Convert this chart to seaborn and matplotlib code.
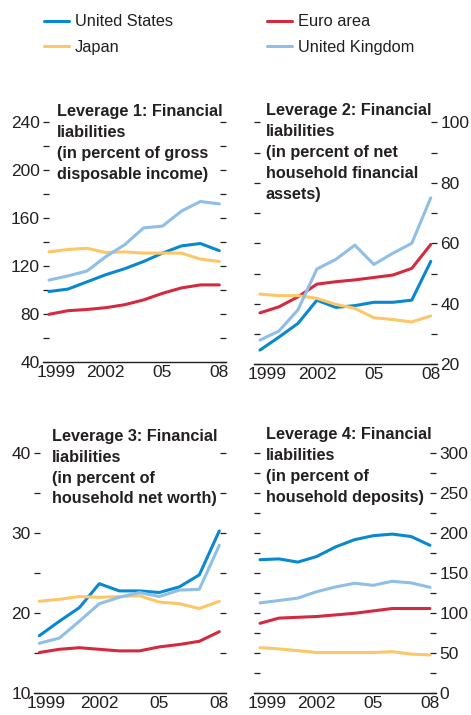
import pandas as pd
import matplotlib.pyplot as plt
import seaborn as sns
from matplotlib.lines import Line2D
from matplotlib.ticker import MultipleLocator
from matplotlib.transforms import ScaledTranslation

# Style
sns.set_style("white")
plt.rcParams['font.family'] = ['Liberation Sans', 'DejaVu Sans']
plt.rcParams['text.color'] = "#231f20"

years = list(range(1999, 2009))
countries = ["United States", "Euro area", "Japan", "United Kingdom"]
palette = {"United States": "#0a88cf", "Euro area": "#d42a3f",
           "Japan": "#fcc766", "United Kingdom": "#8fbfe6"}

# Leverage 1: liabilities / gross disposable income
lev1_us = [99, 101, 107, 113, 118, 124, 131, 137, 139, 133]
lev1_ea = [80, 83, 84, 85.5, 88, 92, 97.5, 102, 104.5, 104.5]
lev1_jp = [132, 134, 135, 131.5, 132, 131, 131, 131, 126, 124]
lev1_uk = [108.5, 112, 116, 128, 138, 152, 153.5, 166, 174, 172]

# Leverage 2: liabilities / net household financial assets
lev2_us = [24.7, 29, 33.5, 41.2, 38.8, 39.4, 40.5, 40.5, 41.2, 54]
lev2_ea = [37, 39, 42.3, 46.5, 47.3, 47.9, 48.7, 49.5, 51.7, 59.6]
lev2_jp = [43.2, 42.7, 42.7, 41.8, 39.8, 38.5, 35.4, 34.8, 34, 36]
lev2_uk = [28, 31, 38, 51.5, 54.7, 59.4, 53, 56.7, 60, 75]

# Leverage 3: liabilities / household net worth
lev3_us = [17.2, 19, 20.7, 23.7, 22.8, 22.8, 22.6, 23.3, 24.8, 30.3]
lev3_ea = [15.1, 15.5, 15.7, 15.5, 15.3, 15.3, 15.8, 16.1, 16.5, 17.7]
lev3_jp = [21.5, 21.75, 22.1, 22, 22.1, 22.2, 21.4, 21.2, 20.6, 21.5]
lev3_uk = [16.25, 16.9, 19, 21.2, 22, 22.6, 22.1, 22.9, 23, 28.5]

# Leverage 4: liabilities / household deposits
lev4_us = [167, 168, 164, 171, 183, 192, 197, 199, 196, 185]
lev4_ea = [87.5, 94, 95, 96, 98, 100, 103, 106, 106, 106]
lev4_jp = [57, 55.5, 53.3, 51, 51, 51, 51, 52, 49, 48]
lev4_uk = [113, 116, 119, 127, 133, 137.5, 135, 140, 138, 132.5]

titles = [
    "Leverage 1: Financial\nliabilities\n(in percent of gross\ndisposable income)",
    "Leverage 2: Financial\nliabilities\n(in percent of net\nhousehold financial\nassets)",
    "Leverage 3: Financial\nliabilities\n(in percent of\nhousehold net worth)",
    "Leverage 4: Financial\nliabilities\n(in percent of\nhousehold deposits)",
]
panels = [
    [lev1_us, lev1_ea, lev1_jp, lev1_uk],
    [lev2_us, lev2_ea, lev2_jp, lev2_uk],
    [lev3_us, lev3_ea, lev3_jp, lev3_uk],
    [lev4_us, lev4_ea, lev4_jp, lev4_uk],
]
ylims = [(40, 240), (20, 100), (10, 40), (0, 300)]
ysteps = [40, 20, 10, 50]
year_labels = {1999: "1999", 2002: "2002", 2005: "05", 2008: "08"}

W, H = 471, 715
# axes boxes in pixels: left, right, top, bottom
boxes = [(43, 226, 122.3, 362.3), (254, 437, 122.3, 364.3),
         (34, 226, 453.3, 693.3), (254, 436, 453.3, 693.3)]
xlims = [(1998.683, 2008.354), (1998.684, 2008.33),
         (1998.735, 2008.335), (1998.68, 2008.32)]
title_pos = [(57.3, 104), (265.7, 103.5), (51.7, 428.5), (265.7, 427)]

fig = plt.figure(figsize=(W / 100, H / 100), dpi=100)
ink = "#231f20"
nudge_right = ScaledTranslation(7 / 100, 0, fig.dpi_scale_trans)
nudge_left = ScaledTranslation(-2.5 / 100, 0, fig.dpi_scale_trans)

for i, (vals, title) in enumerate(zip(panels, titles)):
    l, r, t, b = boxes[i]
    ax = fig.add_axes([l / W, 1 - b / H, (r - l) / W, (b - t) / H])
    df = pd.DataFrame({
        "year": years * 4,
        "value": sum(vals, []),
        "country": [c for c in countries for _ in years],
    })
    sns.lineplot(data=df, x="year", y="value", hue="country",
                 palette=palette, linewidth=2.2, legend=False, ax=ax)
    ax.set_xlim(*xlims[i])
    ax.set_ylim(*ylims[i])
    ax.set_xlabel("")
    ax.set_ylabel("")
    for s in ["top", "left", "right"]:
        ax.spines[s].set_visible(False)
    ax.spines["bottom"].set_color(ink)
    ax.spines["bottom"].set_linewidth(1)

    ax.set_xticks(years)
    ax.set_xticklabels([year_labels.get(y, "") for y in years])
    ax.tick_params(axis="x", direction="in", length=4, width=0.9,
                   color=ink, labelsize=12.5, pad=2, labelcolor=ink)
    # first year label sits a little right of its tick, clear of the y label
    first = ax.get_xticklabels()[0]
    first.set_transform(first.get_transform() + nudge_right)

    ax.yaxis.set_major_locator(MultipleLocator(ysteps[i]))
    ax.yaxis.set_minor_locator(MultipleLocator(ysteps[i] / 2))
    right = i in (1, 3)
    ax.tick_params(axis="y", which="both", direction="in", length=4,
                   width=0.9, color=ink, left=True, right=True,
                   labelleft=not right, labelright=right,
                   labelsize=12.5, pad=2.5, labelcolor=ink)
    if not right:
        bottom_lab = ax.get_yticklabels()[0]
        bottom_lab.set_transform(bottom_lab.get_transform() + nudge_left)

    tx, ty = title_pos[i]
    fig.text(tx / W, 1 - ty / H, title, ha="left", va="top",
             fontsize=11.7, fontweight="bold", linespacing=1.5, color=ink)

# Legend in two columns
h = {c: Line2D([], [], color=palette[c], lw=2.2) for c in countries}
leg_kw = dict(frameon=False, loc="upper left", fontsize=11.8, handlelength=1.5,
              handletextpad=0.4, borderpad=0, borderaxespad=0, labelspacing=0.62)
fig.legend([h["United States"], h["Japan"]], ["United States", "Japan"],
           bbox_to_anchor=(44 / W, 1 - 14.5 / H), **leg_kw)
fig.legend([h["Euro area"], h["United Kingdom"]], ["Euro area", "United Kingdom"],
           bbox_to_anchor=(267 / W, 1 - 14.5 / H), **leg_kw)

fig.savefig("out.png", dpi=100)
